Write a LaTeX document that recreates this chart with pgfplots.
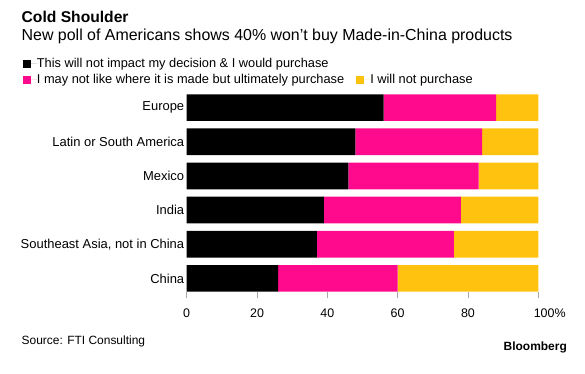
\documentclass[border=0pt]{standalone}
\usepackage{pgfplots}
\pgfplotsset{compat=1.18}
\usepackage{fontspec}
\setmainfont{Liberation Sans}
\definecolor{cpink}{HTML}{FF0A8C}
\definecolor{cyellow}{HTML}{FFC20E}
\begin{document}
\begin{tikzpicture}
\path[use as bounding box] (0bp,0bp) rectangle (585bp,-374bp);
\node[anchor=base west, inner sep=0, font=\bfseries\fontsize{15.7}{19}\selectfont] at (21.5bp,-22.7bp) {Cold Shoulder};
\node[anchor=base west, inner sep=0, font=\fontsize{16}{19}\selectfont] at (21.5bp,-40bp) {New poll of Americans shows 40\% won’t buy Made-in-China products};
\node[anchor=base west, inner sep=0, font=\fontsize{12}{14}\selectfont] at (21.5bp,-344.5bp) {Source: FTI Consulting};
\node[anchor=base east, inner sep=0, font=\bfseries\fontsize{12}{14}\selectfont] at (567bp,-350.5bp) {Bloomberg};
\begin{axis}[
  at={(186.7bp,-291.7bp)}, anchor=south west,
  width=351.6bp, height=197.4bp, scale only axis,
  xbar stacked, bar width=26.7bp,
  xmin=0, xmax=100, ymin=-0.39, ymax=5.39,
  axis line style={draw=none},
  ytick={0,1,2,3,4,5},
  yticklabels={China,{Southeast Asia, not in China},India,Mexico,{Latin or South America},Europe},
  ytick style={draw=none},
  yticklabel style={font=\fontsize{13}{15}\selectfont, xshift=1bp},
  xtick={0,20,40,60,80,100},
  xticklabels={0,20,40,60,80,\makebox[0pt][l]{\hspace*{-4.5bp}100\%}},
  xtick pos=bottom, xtick align=outside,
  major tick length=6.6bp,
  xtick style={gray!70, line width=0.6pt},
  xticklabel style={font=\fontsize{12.5}{15}\selectfont, text height=9bp, text depth=0pt, yshift=-6.5bp},
  legend columns=2,
  legend cell align=left,
  legend style={draw=none, fill=none, inner sep=0pt, anchor=north west,
    at={(-0.4664,1.184)}, font=\fontsize{12.85}{14}\selectfont,
    /tikz/every even column/.append style={column sep=12bp},
    nodes={inner sep=0pt, text height=9bp, text depth=2.6bp},
    row sep=4.4bp},
  legend image code/.code={\fill[#1] (0bp,-4bp) rectangle (8bp,4bp); \path (0bp,0bp) -- (14bp,0bp);},
]
\addplot[fill=black, draw=none] coordinates {(26,0) (37,1) (39,2) (46,3) (48,4) (56,5)};
\addlegendentry{This will not impact my decision \& I would purchase}
\addlegendimage{empty legend}
\addlegendentry{}
\addplot[fill=cpink, draw=none] coordinates {(34,0) (39,1) (39,2) (37,3) (36,4) (32,5)};
\addlegendentry{I may not like where it is made but ultimately purchase}
\addplot[fill=cyellow, draw=none] coordinates {(40,0) (24,1) (22,2) (17,3) (16,4) (12,5)};
\addlegendentry{I will not purchase}
\end{axis}
\end{tikzpicture}
\end{document}
